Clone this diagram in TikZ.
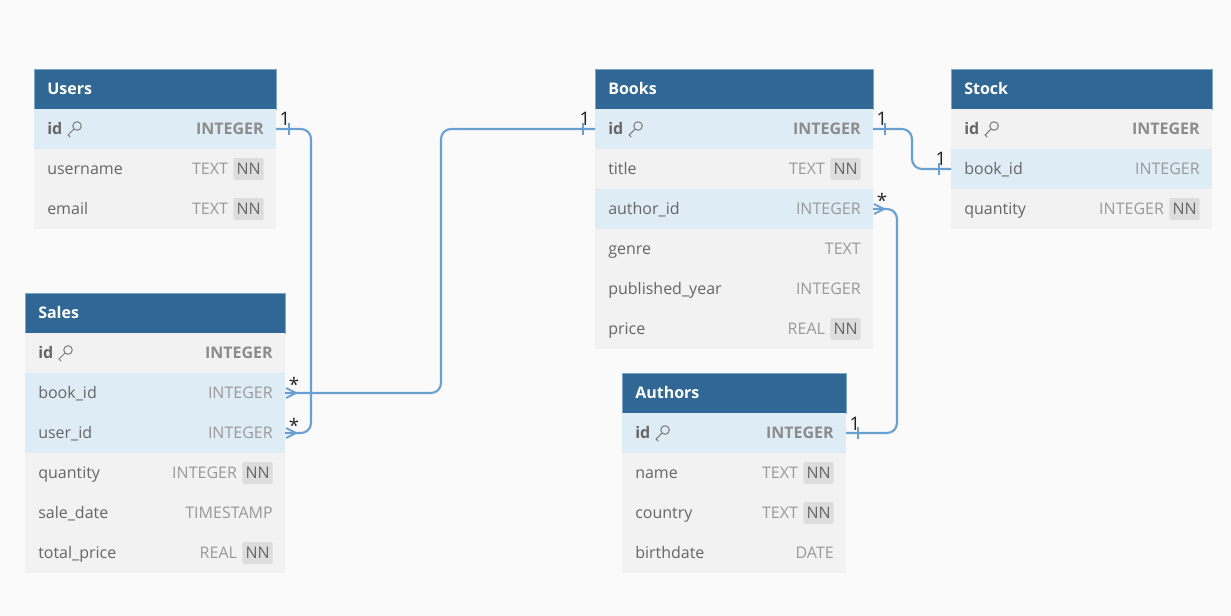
\documentclass[tikz,border=0pt]{standalone}
\usepackage{fontspec}
\setmainfont{Open Sans}
\usetikzlibrary{calc}
\definecolor{bgc}{HTML}{FAFAFA}
\definecolor{hdrc}{HTML}{306795}
\definecolor{hdrline}{HTML}{7FA7CA}
\definecolor{rowg}{HTML}{F2F2F2}
\definecolor{rowb}{HTML}{DEEDF5}
\definecolor{fieldc}{HTML}{666666}
\definecolor{typec}{HTML}{999999}
\definecolor{pktypec}{HTML}{8C8C8C}
\definecolor{nnfill}{HTML}{DDDDDD}
\definecolor{linkc}{HTML}{6A9FD2}
\definecolor{labc}{HTML}{222222}
\definecolor{keyc}{HTML}{7A7A7A}
\newcommand\ftxt{\fontsize{12}{14}\selectfont}
\tikzset{
  hdr/.style={fill=hdrc, draw=hdrline, line width=0.6pt, minimum height=30pt, inner sep=0pt, outer sep=0pt},
  hdrtxt/.style={text=white, font=\ftxt\bfseries, inner sep=0pt, text height=8.6pt, text depth=0pt},
  rowbox/.style={minimum height=30pt, inner sep=0pt, outer sep=0pt},
  fieldtxt/.style={text=fieldc, font=\ftxt, inner sep=0pt, text height=8.6pt, text depth=0pt},
  pktxt/.style={text=fieldc, font=\ftxt\bfseries, inner sep=0pt, text height=8.6pt, text depth=0pt},
  typetxt/.style={text=typec, font=\ftxt, inner sep=0pt, text height=8.6pt, text depth=0pt},
  pktype/.style={text=pktypec, font=\ftxt\bfseries, inner sep=0pt, text height=8.6pt, text depth=0pt},
  nnbadge/.style={fill=nnfill, text=fieldc, font=\ftxt, rounded corners=1.5pt, inner xsep=2.3pt, inner ysep=3.9pt, text height=8.6pt, text depth=0pt},
  link/.style={draw=linkc, line width=1.6pt, rounded corners=7.5pt},
  linkmark/.style={draw=linkc, line width=1.4pt},
  keyline/.style={draw=keyc, line width=0.75pt},
  card/.style={text=labc, font=\fontsize{14}{16}\selectfont, inner sep=0pt, anchor=base},
}
% table header: name, x, y, width, title
\newcommand\erHead[5]{%
  \node[hdr, minimum width=#4*0.75pt, anchor=north west] (#1) at (#2,#3) {};
  \node[hdrtxt, anchor=west] (#1-title) at ($(#1.west)+(13,0)$) {#5};
}
% row: name, x, y, width, fill, field, type, nn(1/0)
\newcommand\erRow[8]{%
  \node[rowbox, fill=#5, minimum width=#4*0.75pt, anchor=north west] (#1) at (#2,#3) {};
  \node[fieldtxt, anchor=west] (#1-f) at ($(#1.west)+(13,0)$) {#6};
  \ifnum#8=1
    \node[nnbadge, anchor=east] (#1-n) at ($(#1.east)+(-12,0)$) {NN};
    \node[typetxt, anchor=east] (#1-t) at ($(#1-n.west)+(-5,0)$) {#7};
  \else
    \node[typetxt, anchor=east] (#1-t) at ($(#1.east)+(-12,0)$) {#7};
  \fi
}
% primary key row: name, x, y, width, fill, type
\newcommand\erPK[6]{%
  \node[rowbox, fill=#5, minimum width=#4*0.75pt, anchor=north west] (#1) at (#2,#3) {};
  \node[pktxt, anchor=west] (#1-f) at ($(#1.west)+(13,0)$) {id};
  \node[pktype, anchor=east] (#1-t) at ($(#1.east)+(-12,0)$) {#6};
  \draw[keyline] ($(#1-f.east)+(14.5,-3)$) circle[radius=3.2pt];
  \draw[keyline, line cap=round] ($(#1-f.east)+(11,0.5)$) -- ($(#1-f.east)+(5.5,6)$) -- ($(#1-f.east)+(7.5,8)$);
}
\newcommand\oneMark[2]{\draw[linkmark] ($(#1)+(#2,-6)$) -- ++(0,12);}
\newcommand\manyMark[1]{\draw[linkmark] ($(#1)+(1,-5)$) -- ($(#1)+(11,0)$) -- ($(#1)+(1,5)$);}
\begin{document}
\begin{tikzpicture}[x=0.75pt,y=-0.75pt]
\useasboundingbox (0,0) rectangle (1231,616);
\fill[bgc] (0,0) rectangle (1231,616);

% Users
\erHead{users}{34}{69}{242}{Users}
\erPK{users-id}{34}{109}{242}{rowb}{INTEGER}
\erRow{users-un}{34}{149}{242}{rowg}{username}{TEXT}{1}
\erRow{users-em}{34}{189}{242}{rowg}{email}{TEXT}{1}

% Sales
\erHead{sales}{25}{293}{260}{Sales}
\erPK{sales-id}{25}{333}{260}{rowg}{INTEGER}
\erRow{sales-bid}{25}{373}{260}{rowb}{book\_id}{INTEGER}{0}
\erRow{sales-uid}{25}{413}{260}{rowb}{user\_id}{INTEGER}{0}
\erRow{sales-qty}{25}{453}{260}{rowg}{quantity}{INTEGER}{1}
\erRow{sales-date}{25}{493}{260}{rowg}{sale\_date}{TIMESTAMP}{0}
\erRow{sales-tp}{25}{533}{260}{rowg}{total\_price}{REAL}{1}

% Books
\erHead{books}{595}{69}{278}{Books}
\erPK{books-id}{595}{109}{278}{rowb}{INTEGER}
\erRow{books-title}{595}{149}{278}{rowg}{title}{TEXT}{1}
\erRow{books-aid}{595}{189}{278}{rowb}{author\_id}{INTEGER}{0}
\erRow{books-genre}{595}{229}{278}{rowg}{genre}{TEXT}{0}
\erRow{books-py}{595}{269}{278}{rowg}{published\_year}{INTEGER}{0}
\erRow{books-price}{595}{309}{278}{rowg}{price}{REAL}{1}

% Stock
\erHead{stock}{951}{69}{261}{Stock}
\erPK{stock-id}{951}{109}{261}{rowg}{INTEGER}
\erRow{stock-bid}{951}{149}{261}{rowb}{book\_id}{INTEGER}{0}
\erRow{stock-qty}{951}{189}{261}{rowg}{quantity}{INTEGER}{1}

% Authors
\erHead{authors}{622}{373}{224}{Authors}
\erPK{authors-id}{622}{413}{224}{rowb}{INTEGER}
\erRow{authors-name}{622}{453}{224}{rowg}{name}{TEXT}{1}
\erRow{authors-country}{622}{493}{224}{rowg}{country}{TEXT}{1}
\erRow{authors-bd}{622}{533}{224}{rowg}{birthdate}{DATE}{0}

% Connectors
\draw[link] (users-id.east) -- ++(35,0) |- (sales-uid.east);
\draw[link] (books-id.west) -- ++(-154,0) |- (sales-bid.east);
\draw[link] (books-id.east) -- ++(39,0) |- (stock-bid.west);
\draw[link] (authors-id.east) -- ++(51,0) |- (books-aid.east);

% Cardinality marks
\oneMark{users-id.east}{13}
\manyMark{sales-uid.east}
\manyMark{sales-bid.east}
\oneMark{books-id.west}{-12}
\oneMark{books-id.east}{12}
\oneMark{stock-bid.west}{-12}
\oneMark{authors-id.east}{12}
\manyMark{books-aid.east}

% Cardinality labels
\node[card] (c1) at ($(users-id.east)+(9,-3)$) {1};
\node[card] (c2) at ($(sales-bid.east)+(9,-1)$) {*};
\node[card] (c3) at ($(sales-uid.east)+(9,-1)$) {*};
\node[card] (c4) at ($(books-id.west)+(-10,-3)$) {1};
\node[card] (c5) at ($(books-id.east)+(9,-3)$) {1};
\node[card] (c6) at ($(stock-bid.west)+(-10,-3)$) {1};
\node[card] (c7) at ($(authors-id.east)+(9,-3)$) {1};
\node[card] (c8) at ($(books-aid.east)+(9,-1)$) {*};
\end{tikzpicture}
\end{document}
